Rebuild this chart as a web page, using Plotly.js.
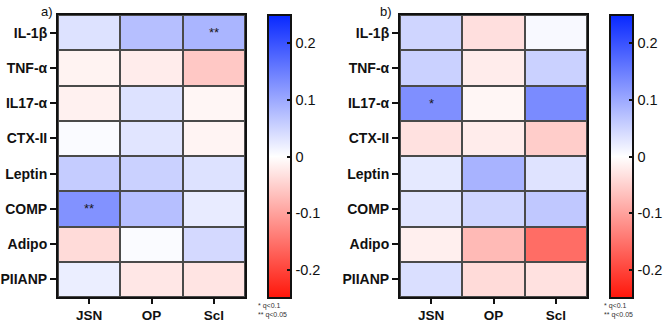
<!DOCTYPE html>
<html>
<head>
<meta charset="utf-8">
<script src="https://cdn.plot.ly/plotly-3.0.1.min.js"></script>
<style>
  html, body { margin: 0; padding: 0; background: #fff; }
  #chart { width: 669px; height: 324px; }
</style>
</head>
<body>
<div id="chart"></div>
<script>
// Outcomes (columns) and biomarkers (rows, top to bottom)
const outcomes = ['JSN', 'OP', 'Scl'];
const markers = ['IL-1β', 'TNF-α', 'IL17-α', 'CTX-II', 'Leptin', 'COMP', 'Adipo', 'PIIANP'];

// Panel a) coefficients, one row per biomarker: [JSN, OP, Scl]
const coefA = [
  [0.034, 0.074, 0.086],
  [-0.013, -0.020, -0.059],
  [-0.015, 0.034, -0.010],
  [0.005, 0.030, -0.012],
  [0.059, 0.054, 0.034],
  [0.127, 0.074, 0.023],
  [-0.039, 0.005, 0.044],
  [0.020, -0.026, -0.029]
];
// Panel b) coefficients
const coefB = [
  [0.049, -0.034, 0.007],
  [0.054, -0.020, 0.054],
  [0.130, -0.010, 0.135],
  [-0.032, -0.020, -0.054],
  [0.026, 0.088, 0.032],
  [0.030, 0.049, 0.064],
  [-0.017, -0.074, -0.157],
  [0.037, -0.039, -0.032]
];
// Significance marks (* q<0.1, ** q<0.05)
const sigA = [
  ['', '', '**'], ['', '', ''], ['', '', ''], ['', '', ''],
  ['', '', ''], ['**', '', ''], ['', '', ''], ['', '', '']
];
const sigB = [
  ['', '', ''], ['', '', ''], ['*', '', ''], ['', '', ''],
  ['', '', ''], ['', '', ''], ['', '', ''], ['', '', '']
];
const cbTicks = [-0.2, -0.1, 0, 0.1, 0.2];
const cbTickText = ['-0.2', '-0.1', '0', '0.1', '0.2'];

const W = 669, H = 324;
const ZMIN = -0.25, ZMAX = 0.25;
const FONT = 'Liberation Sans, Arial, Helvetica, sans-serif';
const scale = [
  [0, 'rgb(255,22,10)'],
  [0.5, 'rgb(255,255,255)'],
  [1, 'rgb(8,40,255)']
];

// Pixel geometry of the two panels
const panels = [
  { x0: 58, x1: 245, cbx: 268, fx: 256, label: 'a)', lx: 39, z: coefA, sig: sigA },
  { x0: 400, x1: 587, cbx: 610, fx: 602, label: 'b)', lx: 378, z: coefB, sig: sigB }
];
const plotTop = 15, plotBot = 297;
const cbTop = 15, cbBot = 298;

const data = [];
const annotations = [];
const shapes = [];
const layout = {
  width: W, height: H,
  margin: { l: 0, r: 0, t: 0, b: 0 },
  paper_bgcolor: '#fff',
  plot_bgcolor: '#4a4a4a',
  font: { family: FONT, color: '#111' },
  showlegend: false
};

panels.forEach((p, i) => {
  const xa = i === 0 ? 'x' : 'x2';
  const ya = i === 0 ? 'y' : 'y2';
  const xKey = i === 0 ? 'xaxis' : 'xaxis2';
  const yKey = i === 0 ? 'yaxis' : 'yaxis2';

  data.push({
    type: 'heatmap',
    x: outcomes, y: markers, z: p.z,
    xaxis: xa, yaxis: ya,
    zmin: ZMIN, zmax: ZMAX,
    colorscale: scale,
    xgap: 2, ygap: 2,
    hoverinfo: 'skip',
    colorbar: {
      thickness: 23, thicknessmode: 'pixels',
      len: cbBot - cbTop, lenmode: 'pixels',
      x: p.cbx / W, xanchor: 'left',
      y: 1 - cbTop / H, yanchor: 'top',
      xpad: 0, ypad: 0,
      outlinewidth: 2, outlinecolor: '#111',
      ticks: 'inside', ticklen: 5, tickwidth: 2, tickcolor: '#111',
      tickvals: cbTicks, ticktext: cbTickText,
      tickfont: { family: FONT, size: 14.5, color: '#111' }
    }
  });

  layout[xKey] = {
    domain: [p.x0 / W, p.x1 / W],
    anchor: ya,
    type: 'category',
    showline: true, mirror: true, linewidth: 2, linecolor: '#111',
    ticks: 'outside', ticklen: 5, tickwidth: 2, tickcolor: '#111',
    showgrid: false, zeroline: false, fixedrange: true,
    tickfont: { family: FONT, size: 13.5, color: '#111', weight: 'bold' }
  };
  layout[yKey] = {
    domain: [1 - plotBot / H, 1 - plotTop / H],
    anchor: xa,
    type: 'category',
    autorange: 'reversed',
    showline: true, mirror: true, linewidth: 2, linecolor: '#111',
    ticks: 'outside', ticklen: 6, tickwidth: 2, tickcolor: '#111',
    showgrid: false, zeroline: false, fixedrange: true,
    tickfont: { family: FONT, size: 14, color: '#111', weight: 'bold' }
  };

  // significance stars inside cells
  p.sig.forEach((row, r) => row.forEach((s, c) => {
    if (!s) return;
    annotations.push({
      xref: xa, yref: ya, x: outcomes[c], y: markers[r],
      text: s, showarrow: false,
      font: { family: FONT, size: 13, color: '#1a1a1a' }
    });
  }));

  // panel letter
  annotations.push({
    xref: 'paper', yref: 'paper', x: p.lx / W, y: 1 - 2 / H,
    xanchor: 'left', yanchor: 'top', showarrow: false,
    text: p.label, font: { family: FONT, size: 13, color: '#111' }
  });

  // legend for significance marks below the colour bar
  annotations.push({
    xref: 'paper', yref: 'paper', x: p.fx / W, y: 1 - 300 / H,
    xanchor: 'left', yanchor: 'top', showarrow: false, align: 'left',
    text: '* q&lt;0.1<br>** q&lt;0.05',
    font: { family: FONT, size: 7, color: '#333' }
  });

  // tick marks on the left edge of the colour bar
  cbTicks.forEach(v => {
    const py = cbBot - (v - ZMIN) / (ZMAX - ZMIN) * (cbBot - cbTop);
    shapes.push({
      type: 'line', xref: 'paper', yref: 'paper',
      x0: (p.cbx + 1) / W, x1: (p.cbx + 6) / W,
      y0: 1 - py / H, y1: 1 - py / H,
      line: { color: '#111', width: 2 }
    });
  });
});

layout.annotations = annotations;
layout.shapes = shapes;

Plotly.newPlot('chart', data, layout, { displayModeBar: false, staticPlot: true });
</script>
</body>
</html>
